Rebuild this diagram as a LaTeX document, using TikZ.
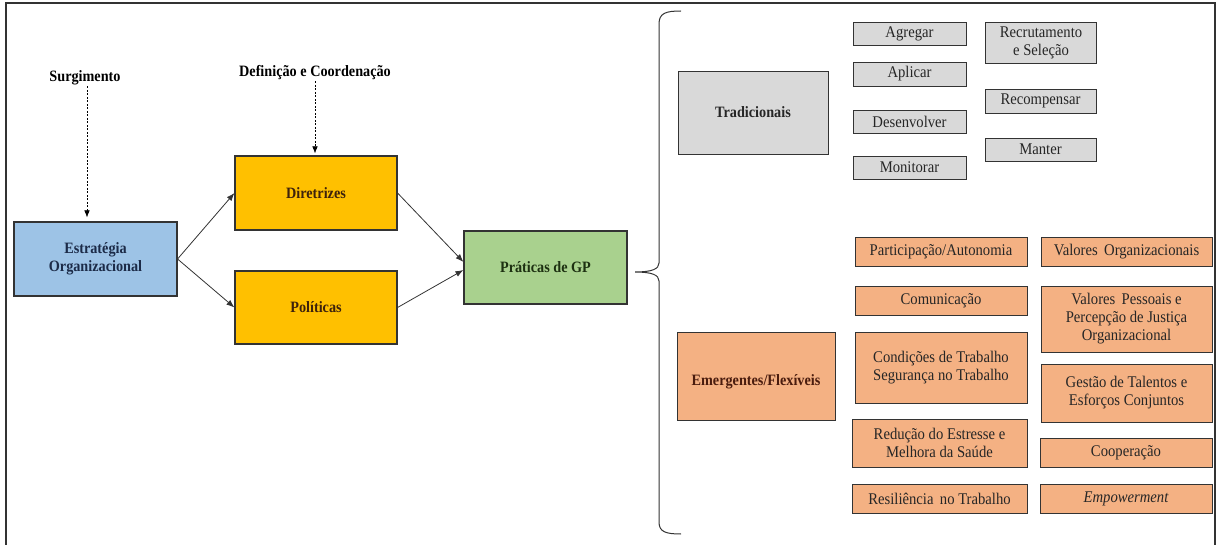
\documentclass[tikz,border=0pt]{standalone}
\usepackage{fontspec}
\setmainfont{Liberation Serif}[FakeStretch=0.9]
\usetikzlibrary{arrows.meta}
\definecolor{stratfill}{HTML}{9DC3E6}
\definecolor{dirfill}{HTML}{FFC000}
\definecolor{pratfill}{HTML}{A9D18E}
\definecolor{grayfill}{HTML}{D9D9D9}
\definecolor{orangefill}{HTML}{F4B183}
\definecolor{edge}{HTML}{333333}
\definecolor{stratink}{HTML}{1C2B48}
\definecolor{dirink}{HTML}{3E220C}
\definecolor{pratink}{HTML}{1D3011}
\definecolor{emerink}{HTML}{4A1C0E}
\begin{document}
\begin{tikzpicture}[x=1pt,y=-1pt,
  box/.style={draw=edge, line width=0.9pt, inner sep=0pt, align=center,
    text=black!85, font=\fontsize{16.3}{18}\selectfont},
  mainbox/.style={box, line width=1.1pt, font=\fontsize{15.8}{17.5}\selectfont\bfseries},
  graybox/.style={box, fill=grayfill},
  orbox/.style={box, fill=orangefill},
  sz/.style 2 args={minimum width=#1pt, minimum height=#2pt},
  flow/.style={-{Latex[length=8pt,width=6pt]}, line width=0.8pt, draw=edge},
  hint/.style={-{Latex[length=7pt,width=5.5pt]}, line width=0.6pt, draw=black,
    dash pattern=on 2pt off 1.5pt},
  toplabel/.style={font=\fontsize{15.8}{17.5}\selectfont\bfseries, inner sep=1pt}
]
\useasboundingbox (0,0) rectangle (1219,545);

% outer frame, open at the bottom
\draw[line width=1.3pt, edge] (6,548) -- (6,3) -- (1215,3) -- (1215,548);

% left part: strategy, guidelines, policies, practices
\node[mainbox, fill=stratfill, text=stratink, sz={163}{74}] (strat) at (95.5,259)
  {Estratégia\\Organizacional};
\node[mainbox, fill=dirfill, text=dirink, sz={162}{74}] (dir) at (316,193) {Diretrizes};
\node[mainbox, fill=dirfill, text=dirink, sz={162}{73}] (pol) at (316,307.5) {Políticas};
\node[mainbox, fill=pratfill, text=pratink, sz={163}{73}] (prat) at (545.5,267.5) {Práticas de GP};

\node[toplabel] (surg) at (85,78) {Surgimento};
\node[toplabel] (def) at (315,73) {Definição e Coordenação};

\draw[hint, shorten >=4pt] (surg.south -| 87,0) -- ([xshift=-8.5pt]strat.north);
\draw[hint, shorten >=2pt] (def.south) -- ([xshift=-1pt]dir.north);

\draw[flow] (strat.east) -- (dir.west);
\draw[flow] (strat.east) -- (pol.west);
\draw[flow] (dir.east) -- ([yshift=5.5pt]prat.west);
\draw[flow] (pol.east) -- ([yshift=-2.5pt]prat.west);

% curly brace grouping the two families of practices
\coordinate (btip) at (635,272);
\draw[line width=1pt, edge]
  (681,11) .. controls (666,11) and (659,13) .. (659,24) -- (659,263)
  .. controls (659,269) and (652,272) .. (btip)
  .. controls (652,272) and (659,275) .. (659,281) -- (659,522)
  .. controls (659,532) and (666,534) .. (681,534);

% traditional practices
\node[mainbox, fill=grayfill, text=black!85, line width=0.9pt, sz={150}{83}] (trad) at (753,112.5) {Tradicionais};
\node[graybox, sz={113}{23}] (agr) at (909.5,33.5) {Agregar};
\node[graybox, sz={113}{24}] (apl) at (909.5,74) {Aplicar};
\node[graybox, sz={113}{23}] (des) at (909.5,121.5) {Desenvolver};
\node[graybox, sz={113}{23}] (mon) at (909.5,167.5) {Monitorar};
\node[graybox, sz={111}{41}] (rec) at (1041,42.5) {Recrutamento\\e Seleção};
\node[graybox, sz={111}{24}] (rcp) at (1040.5,101) {Recompensar};
\node[graybox, sz={111}{23}] (man) at (1040.5,149.5) {Manter};

% emerging / flexible practices
\node[mainbox, fill=orangefill, line width=0.9pt, sz={158}{88}] (emer) at (756,376) {};
\node[font=\fontsize{15.8}{17.5}\selectfont\bfseries, text=emerink, inner sep=0pt]
  (emertext) at ([yshift=-6pt]emer.center) {Emergentes/Flexíveis};
\node[orbox, sz={172}{29}] (part) at (941,251.5) {Participação/Autonomia};
\node[orbox, sz={172}{29}] (com) at (941,300.5) {Comunicação};
\node[orbox, sz={172}{71}] (cond) at (941,367.5) {Condições de Trabalho\\Segurança no Trabalho};
\node[orbox, sz={175}{48}] (red) at (939.5,443) {Redução do Estresse e\\Melhora da Saúde};
\node[orbox, sz={175}{29}] (res) at (939.5,498.5) {Resiliência\, no Trabalho};
\node[orbox, sz={171}{29}] (vorg) at (1126.5,251.5) {Valores\, Organizacionais};
\node[orbox, sz={171}{66}] (vpes) at (1126.5,319) {Valores\, Pessoais e\\Percepção de Justiça\\Organizacional};
\node[orbox, sz={171}{58}] (ges) at (1126.5,393) {Gestão de Talentos e\\Esforços Conjuntos};
\node[orbox, sz={172}{29}] (coop) at (1126,452.5) {Cooperação};
\node[orbox, sz={172}{29}] (emp) at (1126,498.5) {\itshape Empowerment};
\end{tikzpicture}
\end{document}
